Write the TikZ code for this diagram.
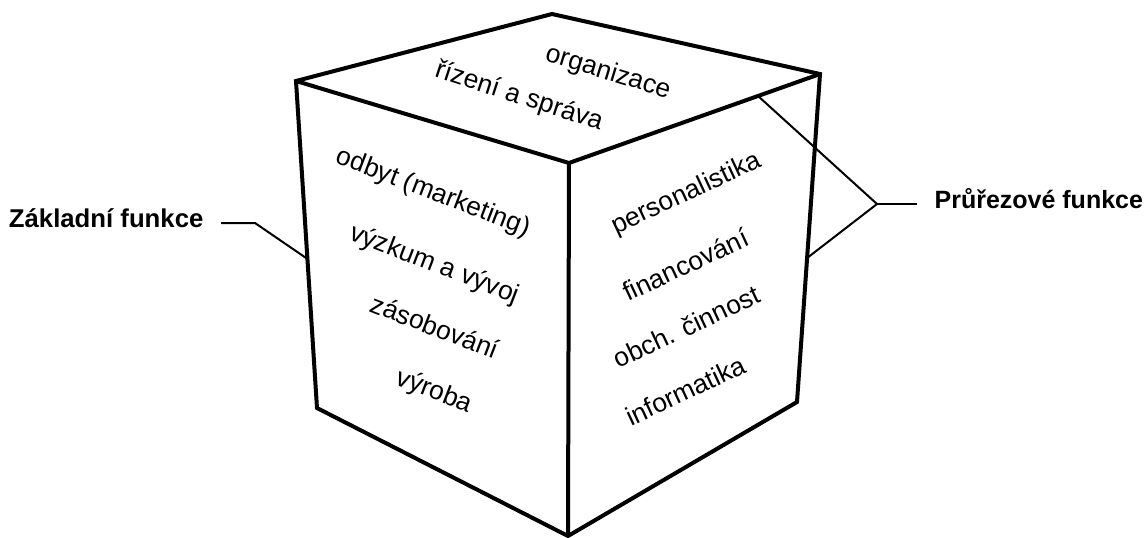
\documentclass[tikz,border=0pt]{standalone}
\usepackage{fontspec}
\setmainfont{Liberation Sans}
\usetikzlibrary{calc}
\tikzset{
  cubeedge/.style={line width=3pt, black, line join=miter},
  leader/.style={line width=1.5pt, black},
  facetext/.style={font=\fontsize{19.8}{22}\selectfont, inner sep=0pt,
                   text height=0.75em, text depth=0.21em},
  sidelabel/.style={font=\fontsize{18.75}{22}\selectfont\bfseries,
                    inner xsep=13pt, inner ysep=0pt,
                    text height=0.72em, text depth=0pt},
}

\begin{document}
\begin{tikzpicture}[x=0.75pt, y=-0.75pt]

\useasboundingbox (0,0) rectangle (1147,537);

%% Cube corners
\coordinate (T)  at (552,14);   % back top
\coordinate (TL) at (296,81);   % top left
\coordinate (TR) at (820,74);   % top right
\coordinate (F)  at (569,163);  % front top
\coordinate (BL) at (317,408);  % bottom left
\coordinate (BR) at (797,402);  % bottom right
\coordinate (B)  at (568,536);  % front bottom

%% Cube outline and inner edges
\draw[cubeedge] (TL) -- (T) -- (TR) -- (BR) -- (B) -- (BL) -- cycle;
\draw[cubeedge] (TL) -- (F) -- (TR);
\draw[cubeedge] (F) -- (B);

%% Top face
\node[facetext, rotate=-17] (org) at (607,76)  {organizace};
\node[facetext, rotate=-18] (riz) at (518,100) {řízení a správa};

%% Left face
\node[facetext, rotate=-21] (odb) at (432,196) {odbyt (marketing)};
\node[facetext, rotate=-21] (vyz) at (433,268) {výzkum a vývoj};
\node[facetext, rotate=-21] (zas) at (433,332) {zásobování};
\node[facetext, rotate=-21] (vyr) at (433,395) {výroba};

%% Right face
\node[facetext, rotate=25] (per) at (688,197) {personalistika};
\node[facetext, rotate=25] (fin) at (688,270) {financování};
\node[facetext, rotate=25] (obc) at (689,332) {obch. činnost};
\node[facetext, rotate=25] (inf) at (688,396) {informatika};

%% Side labels
\node[sidelabel, font=\fontsize{19.3}{22}\selectfont\bfseries, anchor=east]
     (zakl) at (221,223) {Základní funkce};
\node[sidelabel, anchor=west] (prur) at (917,204) {Průřezové funkce};

%% Leader lines
\coordinate (zk) at (255,223);
\coordinate (zl) at ($(TL)!0.544!(BL)$);
\draw[leader] (zakl.east) -- (zakl.east -| zk) -- (zl);

\coordinate (J)  at (877,204);
\coordinate (pu) at ($(F)!0.753!(TR)$);
\coordinate (pl) at ($(TR)!0.561!(BR)$);
\draw[leader] (pu) -- (J) -- (pl);
\draw[leader] (J) -- (prur.west);

\end{tikzpicture}
\end{document}
